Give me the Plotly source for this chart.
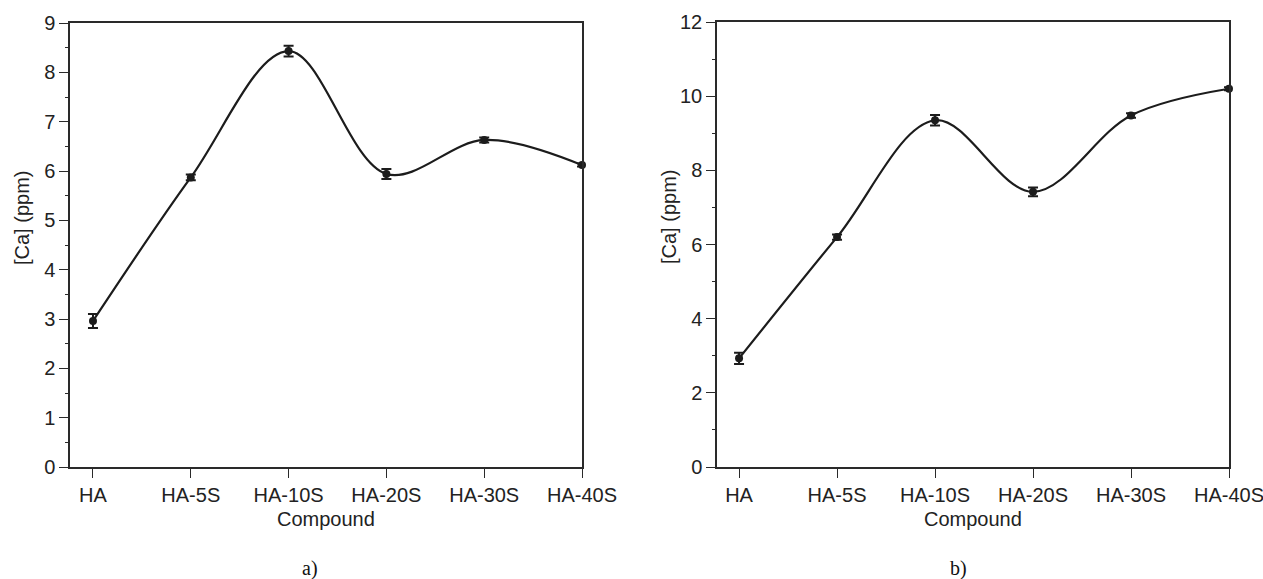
import plotly.graph_objects as go

compounds = ["HA", "HA-5S", "HA-10S", "HA-20S", "HA-30S", "HA-40S"]
ca_a = [2.96, 5.87, 8.43, 5.94, 6.63, 6.12]
err_a = [0.14, 0.06, 0.11, 0.10, 0.05, 0.03]
ca_b = [2.93, 6.20, 9.35, 7.42, 9.48, 10.20]
err_b = [0.15, 0.07, 0.14, 0.12, 0.06, 0.04]
y_ticks_a = [0, 1, 2, 3, 4, 5, 6, 7, 8, 9]
y_ticks_b = [0, 2, 4, 6, 8, 10, 12]

W, H = 1263, 579
INK = "#1c1c1c"
AX = "#2a2a2a"
FONT = "Liberation Sans, Arial, sans-serif"

fig = go.Figure()

for ca, err, xa, ya in [(ca_a, err_a, "x", "y"), (ca_b, err_b, "x2", "y2")]:
    fig.add_trace(go.Scatter(
        x=compounds, y=ca, xaxis=xa, yaxis=ya,
        mode="lines+markers",
        line=dict(color=INK, width=2.2, shape="spline", smoothing=1.0),
        marker=dict(color=INK, size=8, symbol="circle"),
        error_y=dict(type="data", array=err, visible=True, color=INK, thickness=2, width=5),
        cliponaxis=False, showlegend=False,
    ))

def px_x(p):
    return p / W

def px_y(p):
    return 1 - p / H

common_x = dict(
    type="category", categoryorder="array", categoryarray=compounds,
    showline=True, linecolor=AX, linewidth=1.5, mirror=True,
    ticks="outside", ticklen=9, tickwidth=1.3, tickcolor=AX,
    showgrid=False, zeroline=False, automargin=False,
    tickfont=dict(family=FONT, size=20, color="#222"),
)
common_y = dict(
    showline=True, linecolor=AX, linewidth=1.5, mirror=True,
    ticks="outside", ticklen=9, tickwidth=1.3, tickcolor=AX,
    showgrid=False, zeroline=False, automargin=False,
    tickfont=dict(family=FONT, size=20, color="#222"),
)

fig.update_layout(
    width=W, height=H,
    margin=dict(l=0, r=0, t=0, b=0, pad=0),
    paper_bgcolor="white", plot_bgcolor="white",
    xaxis=dict(common_x, domain=[px_x(70), px_x(582)], range=[-0.235, 5], anchor="y"),
    yaxis=dict(common_y, domain=[px_y(467), px_y(23)], range=[0, 9], anchor="x",
               tickvals=y_ticks_a,
               minor=dict(ticks="outside", ticklen=3, tickcolor=AX, dtick=0.5, showgrid=False)),
    xaxis2=dict(common_x, domain=[px_x(717), px_x(1229)], range=[-0.225, 5], anchor="y2"),
    yaxis2=dict(common_y, domain=[px_y(467), px_y(22)], range=[0, 12], anchor="x2",
                tickvals=y_ticks_b,
                minor=dict(ticks="outside", ticklen=3, tickcolor=AX, dtick=1, showgrid=False)),
)

ann_font = dict(family=FONT, size=20, color="#222")
serif = dict(family="Liberation Serif, Times New Roman, serif", size=20, color="#111")
annotations = [
    dict(text="Compound", x=px_x(326), y=px_y(519), font=ann_font),
    dict(text="Compound", x=px_x(973), y=px_y(519), font=ann_font),
    dict(text="[Ca] (ppm)", x=px_x(22), y=px_y(218), textangle=-90, font=ann_font),
    dict(text="[Ca] (ppm)", x=px_x(669), y=px_y(217), textangle=-90, font=ann_font),
    dict(text="a)", x=px_x(310), y=px_y(568), font=serif),
    dict(text="b)", x=px_x(958), y=px_y(568), font=serif),
]
for a in annotations:
    fig.add_annotation(xref="paper", yref="paper", showarrow=False,
                       xanchor="center", yanchor="middle", **a)

fig.write_html(
    "out.html",
    config={"displayModeBar": False},
    post_script="document.body.style.margin='0';document.body.style.overflow='hidden';",
)
